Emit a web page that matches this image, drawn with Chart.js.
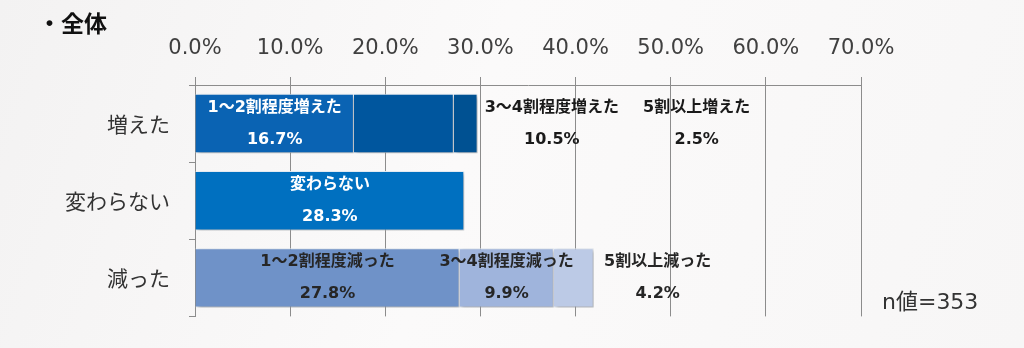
<!DOCTYPE html>
<html>
<head>
<meta charset="utf-8">
<script src="https://cdn.jsdelivr.net/npm/chart.js@4"></script>
<style>
  body { margin: 0; background: #f8f7f7; }
  canvas { display: block; }
</style>
</head>
<body>
<canvas id="myChart" width="1024" height="348"></canvas>
<script>
const categories = ["増えた", "変わらない", "減った"];
const firstShare = [16.7, 28.3, 27.8];
const secondShare = [10.5, null, 9.9];
const thirdShare = [2.5, null, 4.2];
const firstNames = ["1～2割程度増えた", "変わらない", "1～2割程度減った"];
const secondNames = ["3～4割程度増えた", "", "3～4割程度減った"];
const thirdNames = ["5割以上増えた", "", "5割以上減った"];
const xTicks = [0, 10, 20, 30, 40, 50, 60, 70];
const sampleNote = "n値=353";

const latin = '"DejaVu Sans", "Noto Sans CJK JP", sans-serif';

// label styling / manual placement (px shift from segment centre)
const labelStyle = [
  { color: ["#ffffff", "#ffffff", "#262626"], shift: [0, 0, 0] },
  { color: ["#1a1a1a", "#1a1a1a", "#262626"], shift: [148, 0, 0] },
  { color: ["#1a1a1a", "#1a1a1a", "#262626"], shift: [231, 0, 84] },
];
const names = [firstNames, secondNames, thirdNames];

const bgPlugin = {
  id: "bg",
  beforeDraw(chart) {
    const c = chart.ctx;
    const g = c.createLinearGradient(0, 0, chart.width, chart.height);
    g.addColorStop(0, "#f3f2f2");
    g.addColorStop(0.45, "#fbfafa");
    g.addColorStop(1, "#f7f6f6");
    c.save();
    c.fillStyle = g;
    c.fillRect(0, 0, chart.width, chart.height);
    c.fillStyle = "#111";
    c.font = 'bold 23px "Noto Sans CJK JP", sans-serif';
    c.textBaseline = "middle";
    c.fillText("・全体", 38, 23);
    c.fillStyle = "#333";
    c.font = "22px " + latin;
    c.fillText(sampleNote, 882, 303);
    c.restore();
  },
};

const labelPlugin = {
  id: "segLabels",
  beforeDatasetsDraw(chart) {
    const c = chart.ctx;
    c.save();
    c.shadowColor = "rgba(0,0,0,0.3)";
    c.shadowBlur = 4;
    c.shadowOffsetX = 2;
    c.shadowOffsetY = 2;
  },
  afterDatasetsDraw(chart) {
    const c = chart.ctx;
    c.restore();
    c.save();
    c.font = "bold 16px " + latin;
    c.textAlign = "center";
    c.textBaseline = "middle";
    chart.data.datasets.forEach((ds, di) => {
      chart.getDatasetMeta(di).data.forEach((bar, i) => {
        const v = ds.data[i];
        if (v === null) return;
        const x = (bar.base + bar.x) / 2 + labelStyle[di].shift[i];
        c.fillStyle = labelStyle[di].color[i];
        c.fillText(names[di][i], x, bar.y - 16);
        c.fillText(v.toFixed(1) + "%", x, bar.y + 16);
      });
    });
    c.restore();
  },
};

const ctx = document.getElementById("myChart").getContext("2d");

const myChart = new Chart(ctx, {
  type: "bar",
  data: {
    labels: categories,
    datasets: [
      {
        data: firstShare,
        backgroundColor: ["#0a63b3", "#0070c0", "#6f92c8"],
      },
      {
        data: secondShare,
        backgroundColor: ["#00569e", "#0070c0", "#9fb4dc"],
      },
      {
        data: thirdShare,
        backgroundColor: ["#005192", "#0070c0", "#bccae6"],
      },
    ],
  },
  options: {
    indexAxis: "y",
    responsive: false,
    animation: false,
    layout: { padding: { left: 0, top: 0, right: 163, bottom: 28 } },
    datasets: {
      bar: {
        barPercentage: 0.77,
        categoryPercentage: 1,
        borderColor: "rgba(235,242,250,0.95)",
        borderWidth: 1,
      },
    },
    plugins: {
      legend: { display: false },
      tooltip: { enabled: false },
    },
    scales: {
      x: {
        position: "top",
        stacked: true,
        min: 0,
        max: 70,
        afterFit: (s) => { s.height = 85; },
        afterBuildTicks: (s) => { s.ticks = xTicks.map((v) => ({ value: v })); },
        ticks: {
          callback: (v) => v.toFixed(1) + "%",
          font: { family: latin, size: 21 },
          color: "#404040",
          padding: 16,
          maxRotation: 0,
        },
        grid: { color: "#8c8c8c", lineWidth: 1, tickLength: 8 },
        border: { color: "#8c8c8c" },
      },
      y: {
        stacked: true,
        afterFit: (s) => { s.width = 195; },
        ticks: {
          font: { family: '"Noto Sans CJK JP", sans-serif', size: 21 },
          color: "#333",
          padding: 19,
        },
        grid: { drawOnChartArea: false, offset: true, tickLength: 6, color: "#8c8c8c" },
        border: { color: "#8c8c8c" },
      },
    },
  },
  plugins: [bgPlugin, labelPlugin],
});
</script>
</body>
</html>
